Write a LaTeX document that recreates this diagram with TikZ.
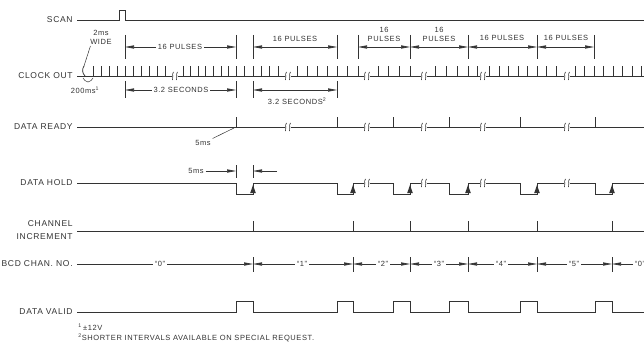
\documentclass[tikz,border=0pt]{standalone}
\usepackage{fontspec}
\setmainfont{Liberation Sans}
\newfontfamily\lblfont[LetterSpace=8]{Liberation Sans}
\usetikzlibrary{arrows.meta}

\begin{document}
\begin{tikzpicture}[x=1pt,y=-1pt,line width=0.75pt,color=black!80,
    lbl/.style={font=\lblfont\fontsize{8.5}{10}\selectfont,anchor=east,inner sep=0pt},
    ann/.style={font=\lblfont\fontsize{7.5}{9}\selectfont,inner sep=1.5pt},
    foot/.style={font=\lblfont\fontsize{7.5}{9}\selectfont,anchor=west,inner sep=0pt},
    dim/.style={-{Triangle[length=9pt,width=3.2pt]},line width=0.6pt},
    dimb/.style={{Triangle[length=9pt,width=3.2pt]}-{Triangle[length=9pt,width=3.2pt]},line width=0.6pt},
    tickln/.style={line width=0.6pt},
    brk/.pic={
      \fill[white] (-3,-5) rectangle (3,5);
      \draw[line width=0.6pt] (-2.5,4) .. controls (-0.5,1) and (-4,-1) .. (-1.5,-4);
      \draw[line width=0.6pt] (1.5,4) .. controls (3.5,1) and (0,-1) .. (2.5,-4);
    }]
  \useasboundingbox (0,0) rectangle (644,350);

  \node[lbl] (scan) at (73,20) {SCAN};
  \node[lbl] (clk) at (73,76) {CLOCK OUT};
  \node[lbl] (rdy) at (73,127) {DATA READY};
  \node[lbl] (hold) at (73,183) {DATA HOLD};
  \node[lbl] (inc1) at (73,224) {CHANNEL};
  \node[lbl] (inc2) at (73,237) {INCREMENT};
  \node[lbl] (bcd) at (73,264) {BCD CHAN. NO.};
  \node[lbl] (valid) at (73,312) {DATA VALID};

  \draw (77,20) -- (119,20) -- (119,10) -- (125,10) -- (125,20) -- (644,20);

  \draw (77,76) -- (644,76);
  \coordinate (tick0) at (84,66);
  \draw (85,76) .. controls (82,73) and (82,69) .. (tick0);
  \foreach \x in {93,101,109,117,125,133,141,149,157,165,
                  183,190.6,198.1,205.7,213.3,220.9,228.4,236,244.4,253,261.2,269.6,278,
                  297,307,317,327.5,337,347.5,358,
                  378,388.7,399.3,410,
                  435,446,457,468,477,
                  489,499,508.5,518,527.5,537,546.5,556,
                  575,584.5,594,603.5,613,622.5,632,641.5}
    \draw (\x,76) -- (\x,66);
  \foreach \x in {175,288,367,424,483,567}
    \pic at (\x,76) {brk};

  \draw (77,127) -- (644,127);
  \foreach \x in {236,337,393,449,520,595}
    \draw (\x,127) -- (\x,117);
  \foreach \x in {288,367,424,483,567}
    \pic at (\x,127) {brk};

  \draw (77,183) \foreach \a/\b in {236/253,337/353,393/410,449/468,520/537,595/612}
    { -- (\a,183) -- (\a,194) -- (\b,194) -- (\b,183) } -- (644,183);
  \foreach \b in {253,353,410,468,537,612}
    \fill (\b-2.8,193) -- (\b+2.8,193) -- (\b,185) -- cycle;
  \foreach \x in {367,424,483,567}
    \pic at (\x,183) {brk};

  \draw (77,231) -- (644,231);
  \foreach \x in {253,353,410,468,537,612}
    \draw (\x,231) -- (\x,221);

  \foreach \x [count=\i] in {253,353,410,468,537,612} {
    \coordinate (b\i) at (\x,264);
    \draw[tickln] (\x,257) -- (\x,272);
  }
  \node[ann] (c0) at (160,264) {“0”};
  \node[ann] (c1) at (302,264) {“1”};
  \node[ann] (c2) at (383,264) {“2”};
  \node[ann] (c3) at (439,264) {“3”};
  \node[ann] (c4) at (501,264) {“4”};
  \node[ann] (c5) at (574,264) {“5”};
  \node[ann,anchor=west] (c6) at (633,264) {“0”};
  \draw[line width=0.6pt] (77,264) -- (c0);
  \foreach \i/\j in {0/1,1/1,1/2,2/2,2/3,3/3,3/4,4/4,4/5,5/5,5/6,6/6}
    \draw[dim] (c\i) -- (b\j);

  \draw (77,312) \foreach \a/\b in {236/253,337/353,393/410,449/468,520/537,595/612}
    { -- (\a,312) -- (\a,301) -- (\b,301) -- (\b,312) } -- (644,312);

  \foreach \x [count=\i] in {125,236,253,337,358,410,468,537,594} {
    \coordinate (k\i) at (\x,47);
    \draw[tickln] (\x,35) -- (\x,59);
  }
  \foreach \x [count=\i] in {125,236,253,337} {
    \coordinate (s\i) at (\x,90);
    \draw[tickln] (\x,81) -- (\x,98);
  }

  \node[ann] (p1) at (180,47) {16 PULSES};
  \draw[dim] (p1) -- (k1);
  \draw[dim] (p1) -- (k2);
  \node[ann] (p2) at (295,39) {16 PULSES};
  \draw[dimb] (k3) -- (k4);
  \node[ann,align=center] (p3) at (384,34) {16\\PULSES};
  \draw[dimb] (k5) -- (k6);
  \node[ann,align=center] (p4) at (439,34) {16\\PULSES};
  \draw[dimb] (k6) -- (k7);
  \node[ann] (p5) at (502,38) {16 PULSES};
  \draw[dimb] (k7) -- (k8);
  \node[ann] (p6) at (566,38) {16 PULSES};
  \draw[dimb] (k8) -- (k9);

  \node[ann] (d1) at (181,90) {3.2 SECONDS};
  \draw[dim] (d1) -- (s1);
  \draw[dim] (d1) -- (s2);
  \draw[dimb] (s3) -- (s4);
  \node[ann] (d2) at (297,101) {3.2 SECONDS\textsuperscript{2}};

  \node[ann,align=center] (wide) at (101,37) {2ms\\WIDE};
  \draw[line width=0.5pt] ([xshift=2pt]wide.south west) -- (tick0);
  \draw[line width=0.5pt] (83,78) .. controls (83.5,81) and (86,80.5) .. (88,82)
    .. controls (90,80.5) and (92.5,81) .. (93,78);
  \node[ann] (per) at (85,90) {200ms\textsuperscript{1}};

  \node[ann] (rdy5) at (203,143) {5ms};
  \coordinate (rdy1) at (234,128);
  \draw[line width=0.5pt] (rdy5.north east) -- (rdy1);

  \node[ann] (hld5) at (196,171) {5ms};
  \foreach \x [count=\i] in {236,253} {
    \coordinate (h\i) at (\x,171);
    \draw[tickln] (\x,165) -- (\x,178);
  }
  \coordinate (h3) at (277,171);
  \draw[dim] (hld5) -- (h1);
  \draw[dim] (h3) -- (h2);

  \node[foot] (n1) at (78,327) {\textsuperscript{1}\,±12V};
  \node[foot] (n2) at (78,338) {\textsuperscript{2}SHORTER INTERVALS AVAILABLE ON SPECIAL REQUEST.};
\end{tikzpicture}
\end{document}
